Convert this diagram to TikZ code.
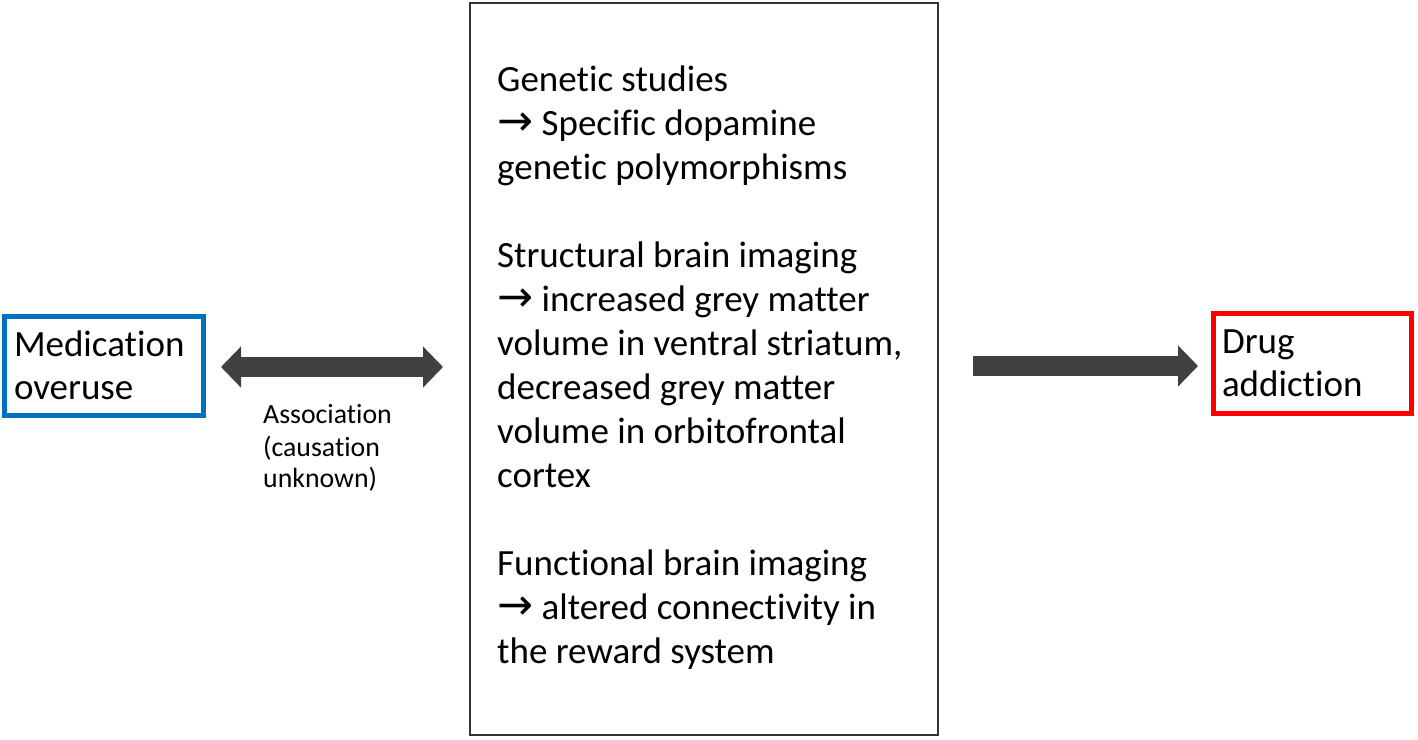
\documentclass[tikz,border=0pt]{standalone}
\usepackage{fontspec}
\setmainfont{Carlito}[Ligatures=NoCommon]
\newfontfamily\symfont{DejaVu Sans}
\usetikzlibrary{arrows.meta,calc}
\definecolor{arrowgray}{HTML}{404040}
\definecolor{boxblue}{HTML}{0070C0}
\definecolor{boxred}{HTML}{FF0000}
\definecolor{framegray}{HTML}{333333}
\newcommand{\rarr}{{\symfont\fontsize{43}{43}\selectfont\char"2192}}
\begin{document}
\begin{tikzpicture}[x=1pt,y=-1pt,
  bigtext/.style={font=\fontsize{37}{43}\selectfont},
  endbox/.style={draw, line width=5pt, outer sep=0pt, rectangle, align=left, bigtext, inner ysep=0pt},
  midline/.style={anchor=base west, inner sep=0pt, bigtext},
  smallline/.style={anchor=base west, inner sep=0pt, font=\fontsize{27.8}{32}\selectfont},
  fatarrow/.style={draw=arrowgray, fill=arrowgray, line width=20pt}
]
\useasboundingbox (0,0) rectangle (1418,739);

% end boxes
\node[endbox, draw=boxblue, minimum width=199pt, minimum height=98.5pt,
      text width=180pt, inner xsep=9.5pt] (med) at (104,365.75) {Medication\\overuse};
\node[endbox, draw=boxred, minimum width=198.5pt, minimum height=100pt,
      text width=180.5pt, inner xsep=9pt] (drug) at (1312.25,363.5) {Drug\\addiction};

% central box
\node[draw=framegray, line width=1.5pt, outer sep=0pt, minimum width=468pt, minimum height=732pt, inner sep=0pt] (mid) at (704,369) {};

% central text
\node[midline] (g1) at (497,91) {Genetic studies};
\node[midline] (g2) at (497,135) {\rarr\ Specific dopamine};
\node[midline] (g3) at (497,179) {genetic polymorphisms};
\node[midline] (s1) at (497,267) {Structural brain imaging};
\node[midline] (s2) at (497,311) {\rarr\ increased grey matter};
\node[midline] (s3) at (497,355) {volume in ventral striatum,};
\node[midline] (s4) at (497,399) {decreased grey matter};
\node[midline] (s5) at (497,443) {volume in orbitofrontal};
\node[midline] (s6) at (497,487) {cortex};
\node[midline] (f1) at (497,575) {Functional brain imaging};
\node[midline] (f2) at (497,619) {\rarr\ altered connectivity in};
\node[midline] (f3) at (497,663) {the reward system};

% association label
\node[smallline] (a1) at (263,423) {Association};
\node[smallline] (a2) at (263,456) {(causation};
\node[smallline] (a3) at (263,487) {unknown)};

% arrows
\draw[fatarrow, {Triangle[length=20pt,width=40pt]}-{Triangle[length=20pt,width=40pt]}]
  ($(med.east)+(17.5,1.25)$) -- ($(mid.west |- med.east)+(-27,1.25)$);
\draw[fatarrow, -{Triangle[length=20pt,width=40pt]}]
  ($(mid.east |- drug.west)+(35,2.5)$) -- ($(drug.west)+(-15,2.5)$);
\end{tikzpicture}
\end{document}
